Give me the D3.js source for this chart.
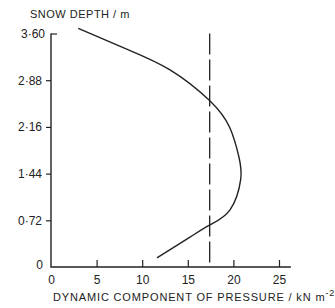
<!DOCTYPE html>
<html>
<head>
<meta charset="utf-8">
<script src="https://cdn.jsdelivr.net/npm/d3@7"></script>
<style>
  body { margin: 0; background: #fff; }
  svg text { font-family: 'Liberation Sans', Arial, sans-serif; fill: #222; }
</style>
</head>
<body>
<div id="svg-container"></div>
<script>
// pressure (kN m^-2) against snow depth (m)
var pressure = [2.99, 8.3, 13.05, 17.36, 19.6, 20.6, 20.8, 19.63, 17.43, 15.24, 11.62]
var depth = [3.68, 3.36, 3.04, 2.57, 2.15, 1.7, 1.35, 0.88, 0.65, 0.46, 0.14]
var staticLevel = 17.4
var xTicks = [0, 5, 10, 15, 20, 25]
var yTicks = [0, 0.72, 1.44, 2.16, 2.88, 3.6]

;(function () {
  var svgWidth = 335,
    svgHeight = 308

  var svg = d3
    .select('#svg-container')
    .append('svg')
    .attr('width', svgWidth)
    .attr('height', svgHeight)

  var ink = '#222'

  // Scales
  var x = d3.scaleLinear().domain([0, 25]).range([51, 279])
  var y = d3.scaleLinear().domain([0, 3.6]).range([267, 33.5])

  var fmt = d => (d === 0 ? '0' : d3.format('.2f')(d).replace('.', '·'))

  // y axis
  var gy = svg
    .append('g')
    .attr('transform', `translate(${x(0)}, 0)`)
    .call(d3.axisLeft(y).tickValues(yTicks).tickSize(5).tickPadding(4).tickFormat(fmt))
  gy.select('.domain').remove()
  gy.selectAll('.tick line').attr('stroke', ink).attr('stroke-width', 1.2)
  gy.selectAll('.tick text').style('font-size', '12px')
  // the top tick points inward, the bottom one has none
  gy.selectAll('.tick').filter(d => d === 3.6).select('line').attr('x2', 6)
  gy.selectAll('.tick').filter(d => d === 0).select('line').remove()
  gy.selectAll('.tick').filter(d => d === 3.6).select('text').attr('x', -6)
  gy.selectAll('.tick').filter(d => d === 0).select('text').attr('x', -8).attr('dy', '0.1em')

  // x axis
  var gx = svg
    .append('g')
    .attr('transform', `translate(0, ${y(0)})`)
    .call(d3.axisBottom(x).tickValues(xTicks).tickSize(-7).tickPadding(8))
  gx.select('.domain').remove()
  gx.selectAll('.tick line').attr('stroke', ink).attr('stroke-width', 1.2)
  gx.selectAll('.tick').filter(d => d === 0).select('line').remove()
  gx.selectAll('.tick text').style('font-size', '12px')

  // axis lines
  svg
    .append('path')
    .attr('fill', 'none')
    .attr('stroke', ink)
    .attr('stroke-width', 1.4)
    .attr('d', `M${x(0)},${y(3.6)}V${y(0)}H${x(26.3)}`)

  // dashed static level
  svg
    .append('line')
    .attr('x1', x(staticLevel))
    .attr('x2', x(staticLevel))
    .attr('y1', y(3.6))
    .attr('y2', y(0))
    .attr('stroke', ink)
    .attr('stroke-width', 1.3)
    .attr('stroke-dasharray', '21,5')

  // curve
  var pts = pressure.map((p, i) => [x(p), y(depth[i])])
  svg
    .append('path')
    .attr('fill', 'none')
    .attr('stroke', ink)
    .attr('stroke-width', 1.4)
    .attr('d', d3.line().curve(d3.curveNatural)(pts))

  // labels
  svg
    .append('text')
    .attr('x', 30)
    .attr('y', 18)
    .style('font-size', '11px')
    .style('letter-spacing', '0.5px')
    .text('SNOW DEPTH / m')

  var xl = svg
    .append('text')
    .attr('x', 53)
    .attr('y', 301)
    .style('font-size', '11px')
    .style('letter-spacing', '0.85px')
  xl.append('tspan').text('DYNAMIC  COMPONENT  OF  PRESSURE / kN m')
  xl.append('tspan').attr('dy', -5).style('font-size', '9px').text('-2')
})()
</script>
</body>
</html>
